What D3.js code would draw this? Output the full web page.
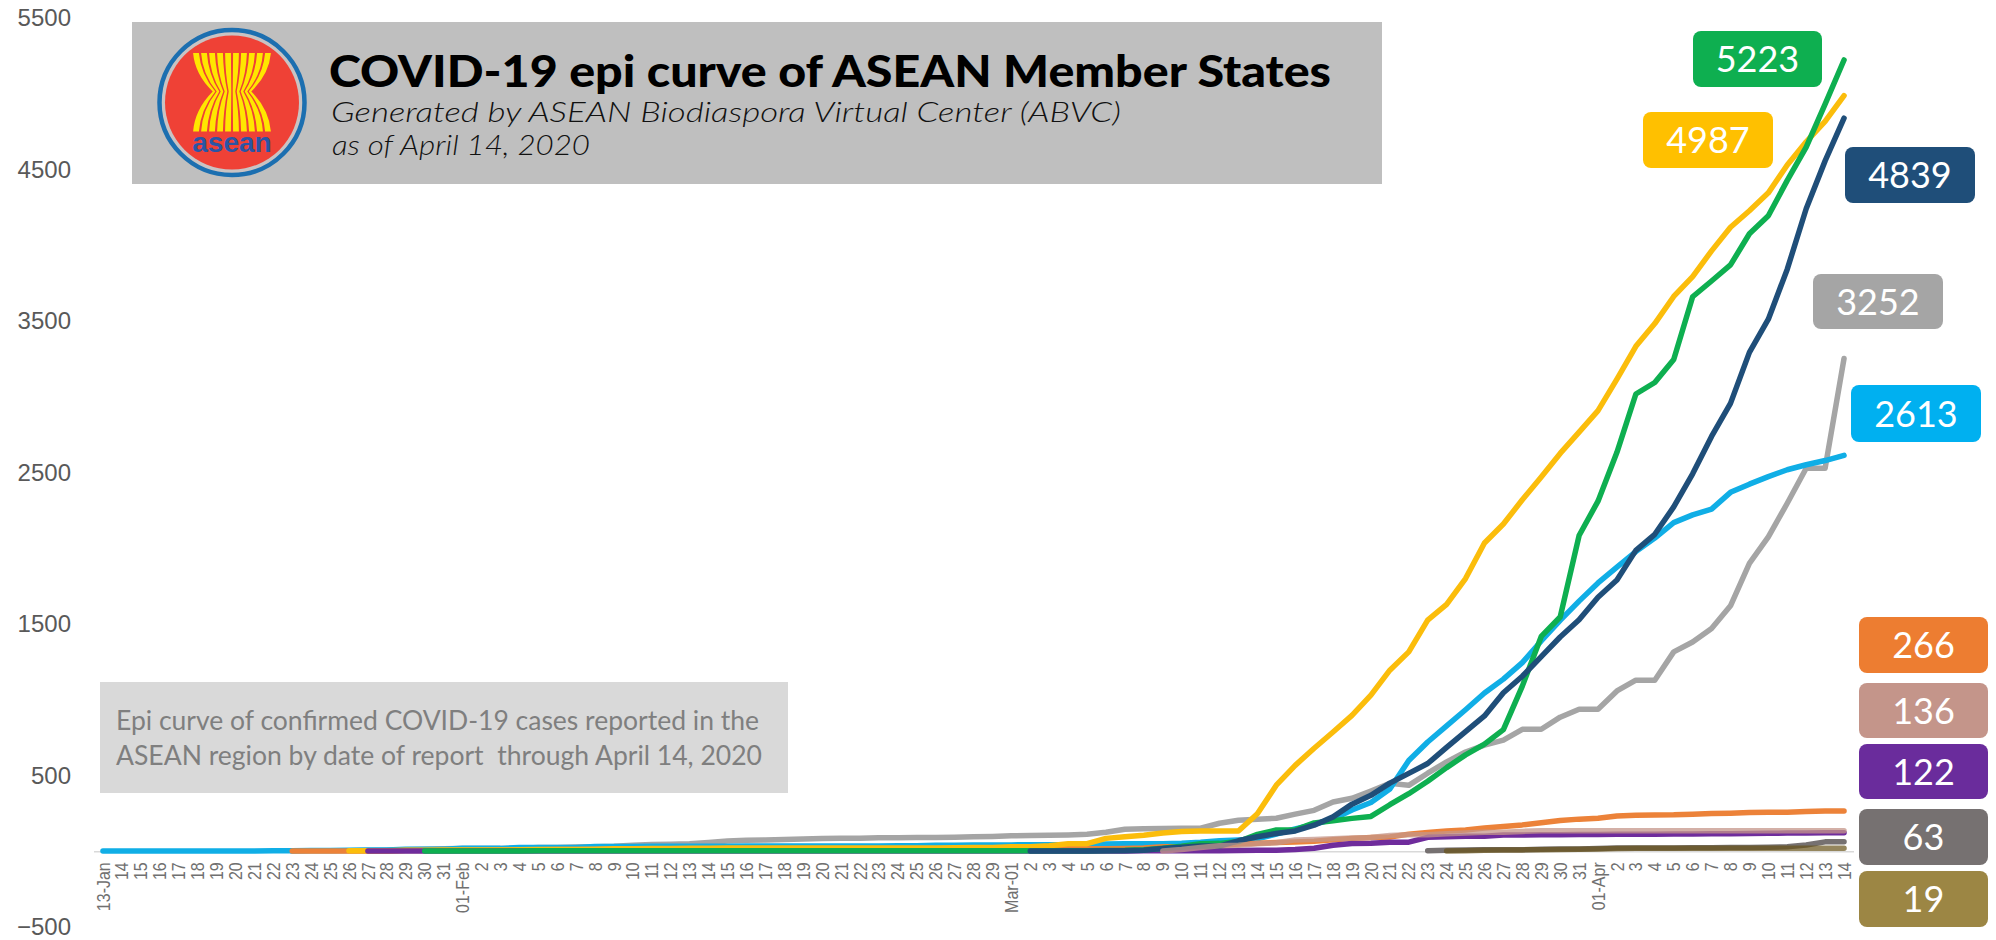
<!DOCTYPE html>
<html>
<head>
<meta charset="utf-8">
<title>COVID-19 epi curve of ASEAN Member States</title>
<script src="https://cdnjs.cloudflare.com/ajax/libs/d3/7.8.5/d3.min.js"></script>
<style>
  body { margin: 0; background: #fff; }
  svg { display: block; }
  .x-axis text { font: 16px "Liberation Sans", Arial, sans-serif; fill: #707070; }
  .y-axis text { font: 24px "Liberation Sans", Arial, sans-serif; fill: #595959; }
</style>
</head>
<body>
<svg id="canvas"></svg>
<script>
let dateLabels = [
  "13-Jan","14","15","16","17","18","19","20","21","22","23","24","25","26","27","28","29","30","31",
  "01-Feb","2","3","4","5","6","7","8","9","10","11","12","13","14","15","16","17","18","19","20","21","22","23","24","25","26","27","28","29",
  "Mar-01","2","3","4","5","6","7","8","9","10","11","12","13","14","15","16","17","18","19","20","21","22","23","24","25","26","27","28","29","30","31",
  "01-Apr","2","3","4","5","6","7","8","9","10","11","12","13","14"
];
let yTicks = [-500, 500, 1500, 2500, 3500, 4500, 5500];

// each series starts at the date index in its *Start variable
let grayStart = 10;
let grayValues = [1,3,4,4,5,7,10,13,16,18,
  18,18,18,24,24,28,30,33,40,45,
  47,50,58,67,72,75,77,81,84,85,
  86,89,89,90,91,93,96,98,102,104,
  106,108,112,125,145,148,150,152,152,185,
  205,212,218,245,270,325,350,398,448,435,
  515,590,655,700,733,805,805,885,937,937,
  1058,1129,1129,1316,1381,1470,1620,1900,2075,2297,
  2528,2528,3252];

let blueStart = 0;
let blueValues = [1,1,1,1,1,1,1,2,2,4,
  4,5,5,7,8,8,14,14,14,19,
  19,19,25,25,25,25,32,32,32,33,
  33,33,33,33,34,34,35,35,35,35,
  35,35,37,37,40,40,41,42,42,43,
  43,43,47,48,50,50,50,53,59,70,
  75,82,114,147,177,212,272,322,411,599,
  721,827,934,1045,1136,1245,1388,1524,1651,1771,
  1875,1978,2067,2169,2220,2258,2369,2423,2473,2518,
  2551,2579,2613];

let orangeStart = 10;
let orangeValues = [2,2,2,2,2,2,5,5,5,6,
  7,8,10,10,12,12,12,13,14,15,
  15,16,16,16,16,16,16,16,16,16,
  16,16,16,16,16,16,16,16,16,16,
  16,16,16,17,18,21,30,31,38,39,
  47,53,57,61,66,76,85,91,94,113,
  123,134,141,153,163,174,188,203,212,218,
  233,237,240,241,245,249,251,255,257,258,
  262,265,266];

let yellowStart = 13;
let yellowValues = [4,4,4,7,7,8,8,
  8,8,10,12,12,12,14,16,16,18,
  18,19,19,22,22,22,22,22,22,22,
  22,22,22,22,22,23,25,25,29,29,
  36,50,50,85,95,105,120,130,134,134,
  134,248,436,567,680,787,897,1030,1195,1316,
  1525,1630,1800,2035,2160,2320,2470,2626,2766,2908,
  3116,3333,3483,3662,3793,3963,4119,4228,4346,4530,
  4683,4817,4987];

let purpleStart = 14;
let purpleValues = [1,1,1,1,1,1,
  1,1,1,1,1,1,1,1,1,1,
  1,1,1,1,1,1,1,1,1,1,
  1,1,1,1,1,1,1,1,1,1,
  1,1,1,1,2,3,3,3,3,3,
  5,7,7,12,20,40,51,53,60,60,
  92,96,99,99,107,107,109,109,110,110,
  112,112,113,114,114,115,116,117,119,120,
  121,122,122];

let greenStart = 17;
let greenValues = [1,1,1,
  2,2,2,3,3,3,3,3,3,3,
  3,3,3,3,3,3,3,3,3,3,
  3,3,3,3,3,3,3,3,3,3,
  3,3,3,5,6,10,20,33,49,52,
  64,111,140,142,187,202,217,230,307,380,
  462,552,636,707,803,1090,1418,1546,2084,2311,
  2633,3018,3094,3246,3660,3764,3870,4076,4195,4428,
  4648,4932,5223];

let navyStart = 49;
let navyValues = [2,
  2,2,2,4,4,6,19,27,34,34,
  69,96,117,134,172,227,311,369,450,514,
  579,686,790,893,1046,1155,1285,1414,1528,1677,
  1790,1986,2092,2273,2491,2738,2956,3293,3512,3842,
  4241,4557,4839];

let roseStart = 56;
let roseValues = [1,11,25,37,
  40,50,56,75,78,83,88,91,104,109,
  109,115,120,126,126,131,135,135,135,135,
  135,135,135,135,135,135,135,135,136,136,
  136,136,136];

let darkGrayStart = 70;
let darkGrayValues = [3,6,8,10,10,10,13,15,15,18,
  21,22,22,22,23,23,24,25,27,30,
  41,62,63];

let oliveStart = 71;
let oliveValues = [2,3,6,8,9,10,12,14,15,
  18,19,19,19,19,19,19,19,19,19,
  19,19,19];

let width = 1996;
let height = 940;

let canvas = d3.select("#canvas")
canvas.attr("width", width);
canvas.attr("height", height);

let series = [
  {values: grayValues, start: grayStart, color: "#a5a5a5"},
  {values: blueValues, start: blueStart, color: "#10aee6"},
  {values: orangeValues, start: orangeStart, color: "#ec8239"},
  {values: yellowValues, start: yellowStart, color: "#fbbd0b"},
  {values: purpleValues, start: purpleStart, color: "#6f2c9c"},
  {values: greenValues, start: greenStart, color: "#0eaf50"},
  {values: navyValues, start: navyStart, color: "#1f4e79"},
  {values: roseValues, start: roseStart, color: "#c4958a", opacity: 0.75},
  {values: darkGrayValues, start: darkGrayStart, color: "#767171"},
  {values: oliveValues, start: oliveStart, color: "#685218", opacity: 0.7}
];

let badges = [
  {text: "5223", color: "#0eaf50", x: 1693, y: 31, w: 129, h: 56},
  {text: "4987", color: "#ffc000", x: 1643, y: 112, w: 130, h: 56},
  {text: "4839", color: "#1f4e79", x: 1845, y: 147, w: 130, h: 56},
  {text: "3252", color: "#a5a5a5", x: 1813, y: 274, w: 130, h: 55},
  {text: "2613", color: "#00b0f0", x: 1851, y: 385, w: 130, h: 57},
  {text: "266", color: "#ed7d31", x: 1859, y: 617, w: 129, h: 56},
  {text: "136", color: "#c4958a", x: 1859, y: 683, w: 129, h: 55},
  {text: "122", color: "#6a2c9c", x: 1859, y: 744, w: 129, h: 55},
  {text: "63", color: "#767171", x: 1859, y: 809, w: 129, h: 56},
  {text: "19", color: "#9c8644", x: 1859, y: 871, w: 129, h: 56}
];

let xScale = d3.scaleBand()
               .domain(d3.range(dateLabels.length))
               .range([93.5, 1853.5]);
let yScale = d3.scaleLinear()
               .domain([-500, 5500])
               .range([927, 18]);

let drawAxes = () => {
    let xAxis = d3.axisBottom(xScale)
                  .tickSize(0)
                  .tickFormat((i) => dateLabels[i]);
    let yAxis = d3.axisLeft(yScale)
                  .tickValues(yTicks)
                  .tickSize(0)
                  .tickFormat(d3.format("d"));

    let gx = canvas.append("g")
                   .attr("class", "x-axis")
                   .attr("transform", "translate(0, " + yScale(0) + ")")
                   .call(xAxis);
    gx.select(".domain").attr("stroke", "#d9d9d9").attr("stroke-width", 1.5);
    gx.selectAll("text")
      .attr("text-anchor", "end")
      .attr("transform", "translate(0, 11) rotate(-90) scale(1, 1.18)")
      .attr("x", 0)
      .attr("y", 0)
      .attr("dy", "0.35em");

    let gy = canvas.append("g")
                   .attr("class", "y-axis")
                   .attr("transform", "translate(71, 0)")
                   .call(yAxis);
    gy.select(".domain").remove();
    gy.selectAll("text").attr("x", 0);
}

let drawLines = () => {
    let line = d3.line()
                 .x((d) => xScale(d.i) + xScale.bandwidth() / 2)
                 .y((d) => yScale(d.v));

    canvas.selectAll(".series")
          .data(series)
          .enter()
          .append("path")
          .attr("class", "series")
          .attr("fill", "none")
          .attr("stroke", (s) => s.color)
          .attr("stroke-width", 5.5)
          .attr("stroke-linecap", "round")
          .attr("stroke-linejoin", "round")
          .attr("opacity", (s) => s.opacity || 1)
          .attr("d", (s) => line(s.values.map((v, k) => ({i: s.start + k, v: v}))));
}

let drawBadges = () => {
    let g = canvas.selectAll(".badge")
                  .data(badges)
                  .enter()
                  .append("g")
                  .attr("class", "badge");
    g.append("rect")
     .attr("x", (b) => b.x)
     .attr("y", (b) => b.y)
     .attr("width", (b) => b.w)
     .attr("height", (b) => b.h)
     .attr("rx", 8)
     .attr("fill", (b) => b.color);
    g.append("text")
     .attr("x", (b) => b.x + b.w / 2)
     .attr("y", (b) => b.y + b.h / 2 + 13)
     .attr("text-anchor", "middle")
     .attr("fill", "#fff")
     .style("font", "36px Lato, 'Open Sans', sans-serif")
     .text((b) => b.text);
}

let drawLogo = (cx, cy) => {
    let logo = canvas.append("g");
    logo.append("circle").attr("cx", cx).attr("cy", cy).attr("r", 72.5)
        .attr("fill", "#c9c3c3").attr("stroke", "#1c6fb0").attr("stroke-width", 4.5);
    logo.append("circle").attr("cx", cx).attr("cy", cy).attr("r", 67).attr("fill", "#ef4136");

    let top = cy - 49.5, waist = cy - 11, bottom = cy + 29;
    d3.range(10).forEach((i) => {
        let u = (i + 0.5) / 5 - 1;
        let xo = cx + u * 40, xw = cx + u * 20;
        let wo = 2.9, ww = 1.3;
        let d = "M" + (xo - wo) + "," + top +
                "L" + (xo + wo) + "," + top +
                "Q" + (xo + wo - u * 2) + "," + (waist + (top - waist) * 0.45) + " " + (xw + ww) + "," + waist +
                "Q" + (xo + wo - u * 2) + "," + (waist + (bottom - waist) * 0.45) + " " + (xo + wo) + "," + bottom +
                "L" + (xo - wo) + "," + bottom +
                "Q" + (xo - wo - u * 2) + "," + (waist + (bottom - waist) * 0.45) + " " + (xw - ww) + "," + waist +
                "Q" + (xo - wo - u * 2) + "," + (waist + (top - waist) * 0.45) + " " + (xo - wo) + "," + top + "Z";
        logo.append("path").attr("d", d).attr("fill", "#ffe600");
    });
    logo.append("text").attr("x", cx).attr("y", cy + 49).attr("text-anchor", "middle")
        .attr("fill", "#2a55a5").style("font", "bold 28px 'Liberation Sans', Arial, sans-serif").text("asean");
}

let drawHeader = () => {
    canvas.append("rect").attr("x", 132).attr("y", 22).attr("width", 1250).attr("height", 162).attr("fill", "#bfbfbf");
    drawLogo(232, 102.5);
    canvas.append("text").attr("x", 329).attr("y", 87)
          .attr("textLength", 1002).attr("lengthAdjust", "spacingAndGlyphs")
          .style("font", "900 44px Lato, sans-serif").attr("fill", "#000")
          .text("COVID-19 epi curve of ASEAN Member States");
    canvas.append("text").attr("x", 331).attr("y", 122)
          .attr("textLength", 790).attr("lengthAdjust", "spacingAndGlyphs")
          .style("font", "italic 300 27px Lato, sans-serif").attr("fill", "#111")
          .text("Generated by ASEAN Biodiaspora Virtual Center (ABVC)");
    canvas.append("text").attr("x", 332).attr("y", 155)
          .attr("textLength", 258).attr("lengthAdjust", "spacingAndGlyphs")
          .style("font", "italic 300 27px Lato, sans-serif").attr("fill", "#111")
          .text("as of April 14, 2020");
}

let drawNote = () => {
    canvas.append("rect").attr("x", 100).attr("y", 682).attr("width", 688).attr("height", 111).attr("fill", "#d9d9d9");
    canvas.append("text").attr("x", 116).attr("y", 730)
          .attr("textLength", 643).attr("lengthAdjust", "spacingAndGlyphs")
          .style("font", "26px Lato, sans-serif").attr("fill", "#7f7f7f")
          .text("Epi curve of confirmed COVID-19 cases reported in the");
    canvas.append("text").attr("x", 116).attr("y", 765)
          .attr("textLength", 646).attr("lengthAdjust", "spacingAndGlyphs")
          .style("font", "26px Lato, sans-serif").attr("fill", "#7f7f7f")
          .style("white-space", "pre")
          .text("ASEAN region by date of report  through April 14, 2020");
}

drawAxes();
drawLines();
drawHeader();
drawNote();
drawBadges();
</script>
</body>
</html>
